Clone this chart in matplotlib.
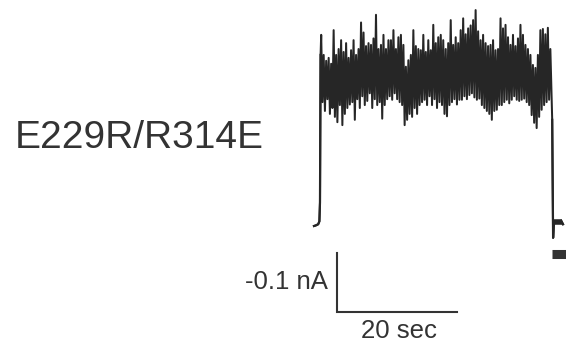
import numpy as np
import matplotlib
matplotlib.use("Agg")
import matplotlib.pyplot as plt

plt.rcParams['font.family'] = ['Liberation Sans', 'DejaVu Sans']

# trace: time in sec, current deflection in pA
label = "E229R/R314E"

# baseline before the pulse, with the small hook before the rise
pre_t = [0.0, 0.3, 0.7, 0.9, 1.0, 1.1]
pre_pa = [0, 1, 3, 8, 40, 290]

# noisy plateau (alternating peaks, read segment by segment)
noise_pa = [
    324, 210, 290, 195, 280, 215, 285, 190,
    275, 200, 332, 185, 290, 176, 300, 205,
    315, 171, 295, 190, 310, 200, 285, 206,
    298, 210, 315, 180, 290, 215, 300, 200,
    345, 220, 328, 205, 305, 212, 310, 225,
    307, 200, 318, 215, 358, 205, 300, 210,
    307, 182, 324, 205, 300, 215, 315, 220,
    315, 214, 332, 225, 300, 215, 320, 210,
    324, 205, 307, 171, 270, 180, 281, 190,
    290, 185, 332, 200, 305, 190, 300, 205,
    298, 210, 324, 214, 295, 205, 315, 220,
    298, 205, 341, 215, 310, 200, 320, 210,
    324, 205, 315, 190, 300, 186, 310, 205,
    349, 210, 307, 215, 320, 206, 310, 214,
    332, 214, 352, 220, 325, 215, 335, 222,
    340, 225, 349, 218, 366, 214, 330, 216,
    315, 205, 324, 200, 310, 195, 305, 190,
    307, 180, 315, 195, 298, 197, 300, 205,
    352, 205, 335, 210, 341, 214, 320, 208,
    307, 214, 324, 220, 305, 214, 318, 212,
    341, 214, 324, 216, 307, 210, 300, 205,
    290, 188, 273, 175, 268, 166, 290, 185,
    332, 197, 334, 205, 325, 210, 336, 214, 300, 220,
]
noise_start, noise_end = 1.2, 39.6

# return to baseline after the pulse
post_t = [39.7, 39.85, 39.95, 40.1, 40.6, 41.2, 41.5]
post_pa = [180, -20, 0, 8, 6, 9, 3]

# scale bar
bar_sec = 20
bar_pa = 100
bar_label_y = "-0.1 nA"
bar_label_x = "20 sec"

noise_t = np.linspace(noise_start, noise_end, len(noise_pa))

fig = plt.figure(figsize=(5.66, 3.43), dpi=100)
ax = fig.add_axes([0, 0, 1, 1])
ax.set_xlim(-52.33, 42.0)
ax.set_ylim(-198.3, 383.1)
ax.axis('off')

col = '#262626'
all_t = np.concatenate([pre_t, noise_t, post_t])
all_pa = np.concatenate([pre_pa, noise_pa, post_pa])
ax.plot(all_t, all_pa, color=col, lw=1.45)
ax.plot(pre_t, pre_pa, color=col, lw=1.6)
ax.plot(post_t, post_pa, color=col, lw=1.6)
ax.plot([40.0, 41.3], [7, 7], color=col, lw=4, solid_capstyle='butt')

# dark bar at the lower right edge
ax.plot([39.7, 43], [-48, -48], color='#333333', lw=6.5, solid_capstyle='butt', clip_on=False)

# scale bar
x0, y0 = 3.83, -145.8
ax.plot([x0, x0, x0 + bar_sec], [y0 + bar_pa, y0, y0], color='#333333', lw=1.5,
        solid_joinstyle='miter')
ax.text(x0 - 1.5, y0 + 51, bar_label_y, ha='right', va='center', fontsize=18.5, color='#333333')
ax.text(x0 + bar_sec / 2 + 0.4, y0 - 11, bar_label_x, ha='center', va='top', fontsize=18.5, color='#333333')

fig.text(15 / 566, 1 - 138 / 343, label, ha='left', va='center', fontsize=28, color='#333333')

fig.savefig('out.png', dpi=100)
